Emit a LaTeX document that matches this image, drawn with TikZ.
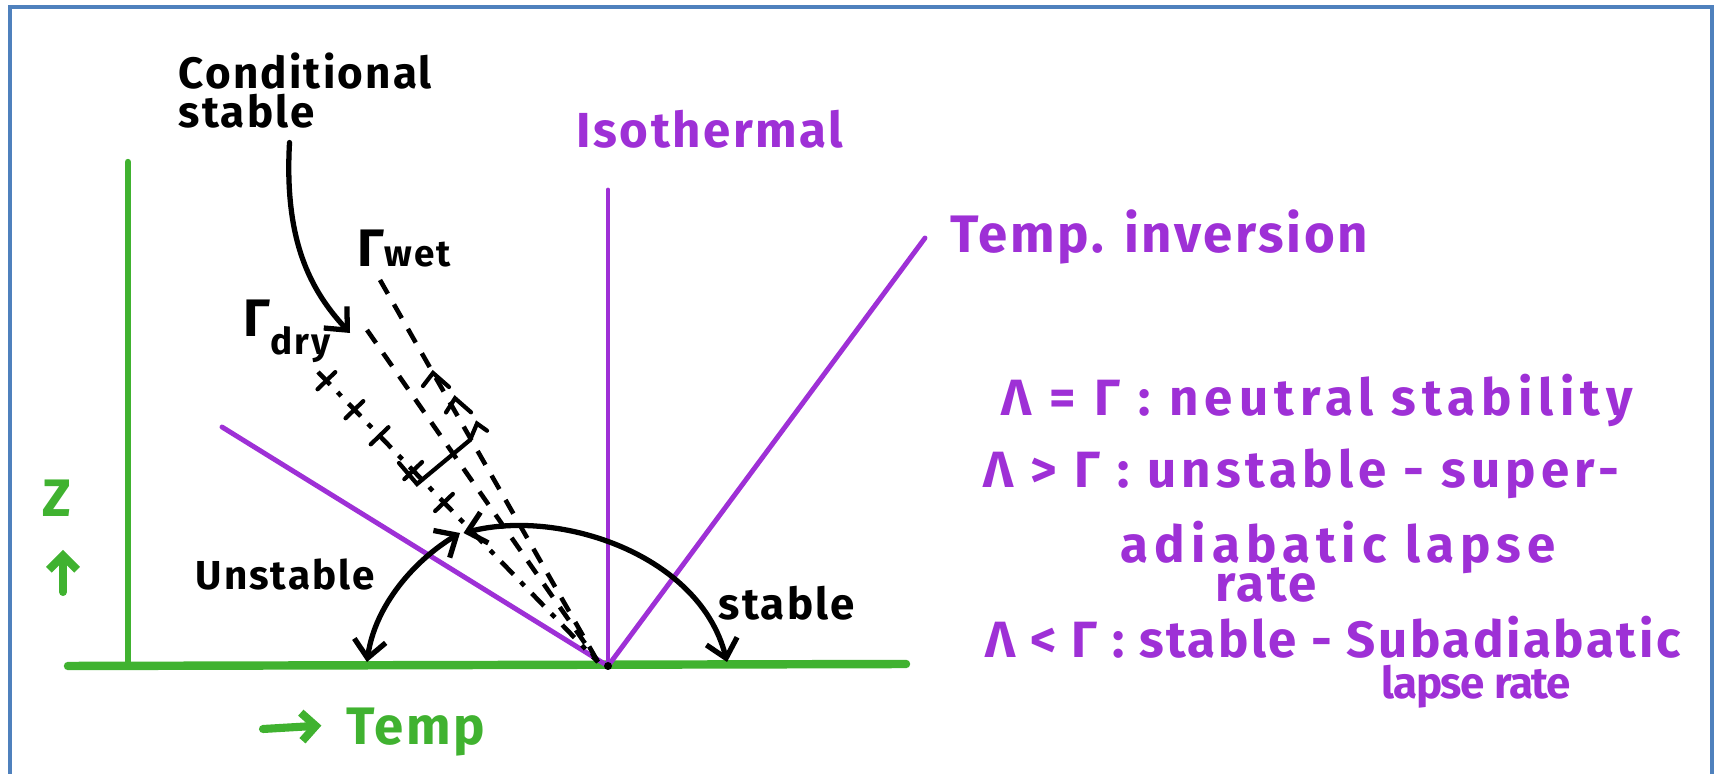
\documentclass[tikz,border=0pt]{standalone}
\usepackage{fontspec}
\setmainfont[LetterSpace=5]{Fira Sans}
\usepackage{xcolor}
\usepackage{tikz}
\usetikzlibrary{arrows.meta,calc}
\definecolor{axisgreen}{RGB}{64,178,48}
\definecolor{lapsepurple}{RGB}{158,48,214}
\definecolor{frameblue}{RGB}{79,129,189}
\newcommand{\spread}[1]{\addfontfeatures{LetterSpace=#1}}

\begin{document}
\begin{tikzpicture}[x=0.01cm, y=-0.01cm,
      axis/.style={axisgreen, line width=1.8pt, line cap=round},
      prof/.style={lapsepurple, line width=1.4pt, line cap=round},
      pen/.style={black, line width=1.5pt, line cap=round},
      dryline/.style={black, line width=1.3pt, dash pattern=on 5pt off 3pt on 1.5pt off 3pt},
      wetline/.style={black, line width=1.3pt, dash pattern=on 4.5pt off 3.5pt},
      swing/.style={pen, {Straight Barb[length=5pt,width=9pt]}-{Straight Barb[length=5pt,width=9pt]}},
      lbl/.style={inner sep=0pt, anchor=base west, font=\bfseries\fontsize{12.5}{14}\selectfont},
      plbl/.style={lbl, text=lapsepurple, font=\bfseries\fontsize{14.5}{17}\selectfont},
      legend/.style={lbl, text=lapsepurple, font=\bfseries\fontsize{14.5}{17}\selectfont},
      glbl/.style={lbl, text=axisgreen}
  ]
    \useasboundingbox (0,0) rectangle (1716,774);
    \draw[frameblue, line width=0.9pt] (10,790) -- (10,7) -- (1712,7) -- (1712,790);

    % axes
    \coordinate (zTop) at (128,162);
    \coordinate (zBot) at (128,666);
    \coordinate (tL) at (68,666);
    \coordinate (tR) at (906,664);
    \coordinate (O) at (608,666);
    \draw[axis] (zBot) -- (zTop);
    \draw[axis, line width=2.4pt] (tL) -- (tR);

    \node[glbl, anchor=center, font=\bfseries\fontsize{15}{15}\selectfont] (zlab) at (57,498) {Z};
    \coordinate (zfoot) at (63,592);
    \coordinate (ztip) at (63,550);
    \draw[axis, line width=2.3pt, -{Straight Barb[length=4pt,width=8pt]}] (zfoot) -- (ztip);
    \node[glbl, font=\bfseries\fontsize{15}{15}\selectfont] (templab) at (346,745) {Temp};
    \coordinate (ttail) at (263,729);
    \draw[axis, line width=2.3pt, -{Straight Barb[length=4pt,width=8pt]}] (ttail) -- ([xshift=-7pt,yshift=2pt]templab.west);

    % temperature profiles
    \coordinate (isoTop) at (608,190);
    \coordinate (invTop) at (925,238);
    \coordinate (negTop) at (222,427);
    \draw[prof] (O) -- (isoTop);
    \draw[prof] (O) -- (invTop);
    \draw[prof] (negTop) -- (O);
    \node[plbl, font=\bfseries\fontsize{14}{17}\selectfont] (iso) at (576,148) {Isothermal};
    \node[plbl, font=\bfseries\fontsize{15}{17}\selectfont] (inv) at (950,253) {Temp. inversion};

    % adiabats
    \coordinate (dryTop) at (318,372);
    \coordinate (midTop) at (367,330);
    \coordinate (wetTop) at (380,280);
    \coordinate (Ofoot) at (598,662);
    \draw[dryline] (dryTop) -- (Ofoot);
    \draw[wetline] (midTop) -- (Ofoot);
    \draw[wetline] (wetTop) -- (Ofoot);
    \foreach \t in {0.03,0.13,0.22,0.34,0.45}
      \draw[pen, line width=1.2pt] ($($(dryTop)!\t!(Ofoot)$)!3.5pt!90:(Ofoot)$) -- ($($(dryTop)!\t!(Ofoot)$)!3.5pt!-90:(Ofoot)$);
    \foreach \a/\b/\c in {423/433/449, 446/455/471, 470/477/487}
      \draw[pen, line width=1.2pt] (\a,{386+(\a-423)*1.15}) -- (\b,{373+(\b-433)*1.15}) -- (\c,{387+(\c-449)*1.15});
    \draw[pen, line width=1.2pt] (399,463) -- (417,484) -- (470,440);

    \node[lbl, font=\bfseries\fontsize{10.5}{10.5}\selectfont] (gwet) at (357,267) {{\fontsize{15}{15}\selectfont Γ}wet};
    \node[lbl, font=\bfseries\fontsize{10.5}{10.5}\selectfont] (gdry) at (243,337) {{\fontsize{15}{15}\selectfont Γ}\raisebox{-5pt}{dry}};

    \node[lbl, align=left, anchor=north west, font=\bfseries\fontsize{12.5}{11}\selectfont] (cond) at (178,52) {Conditional\\stable};
    \coordinate (cs) at (350,333);
    \draw[pen, -{Straight Barb[length=5pt,width=9pt]}] ([xshift=-4.5pt,yshift=-4pt]cond.south) .. controls (284,240) and (310,290) .. (cs);

    % stability swings
    \coordinate (star) at (460,533);
    \coordinate (uFoot) at (367,662);
    \coordinate (sFoot) at (727,662);
    \draw[swing] (star) .. controls (415,560) and (375,605) .. (uFoot);
    \draw[swing] ([xshift=1pt]star) .. controls (560,508) and (700,555) .. (sFoot);
    \fill (O) circle (4);
    \node[lbl, font=\bfseries\fontsize{11.5}{14}\selectfont] (unst) at (195,590) {Unstable};
    \node[lbl] (stab) at (718,620) {stable};

    % legend
    \node[legend] (leg1) at (1001,416) {\spread{12}Λ = Γ : neutral stability};
    \node[legend] (leg2) at (983,488) {\spread{10}Λ > Γ : unstable - super-};
    \node[legend] (leg3) at (1120,563) {\spread{12}adiabatic lapse};
    \node[legend] (leg4) at (1215,602) {rate};
    \node[legend] (leg5) at (985,658) {Λ < Γ : stable - Subadiabatic};
    \node[legend, font=\bfseries\fontsize{12.5}{14}\selectfont] (leg6) at (1381,699) {\spread{-3}lapse rate};
  \end{tikzpicture}
\end{document}
